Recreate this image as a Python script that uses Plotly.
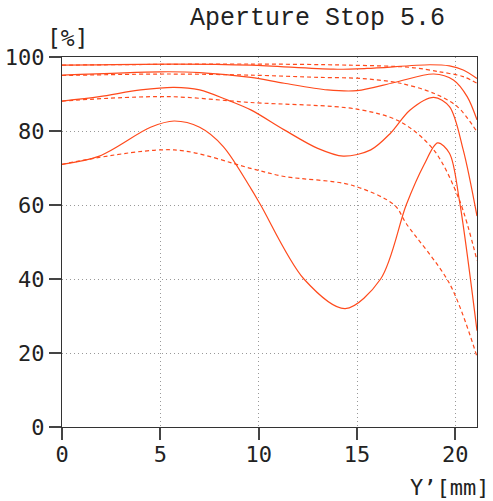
import plotly.graph_objects as go

COLOR = "#ff4a1c"
TITLE_FONT = "Liberation Mono"
FONT = "DejaVu Sans Mono"

# Tick labels
x_ticks = [0, 5, 10, 15, 20]
y_ticks = [0, 20, 40, 60, 80, 100]

# Series (solid = sagittal, dashed = meridional), x in mm, y in %
s1_x = [0, 5.7, 9.6, 13.8, 15.5, 18.7, 19.7, 20.4, 21.1]
s1_y = [97.8, 98.1, 97.8, 96.7, 96.9, 97.9, 97.6, 96.5, 94.2]
d1_x = [0, 5, 9.6, 14.6, 17.7, 19.2, 20.4, 21.1]
d1_y = [97.8, 98.0, 98.1, 97.8, 97.2, 96.0, 94.7, 92.9]

s2_x = [0, 5, 7, 9.6, 11.3, 13.5, 15, 16.9, 18.9, 19.9, 20.6, 21.1]
s2_y = [95.1, 96.0, 95.8, 94.5, 92.9, 91.1, 90.9, 93.1, 95.4, 93.8, 89.3, 83]
d2_x = [0, 5.3, 9.6, 13, 15.2, 17.2, 18.9, 20.1, 21.1]
d2_y = [95, 95.4, 95.1, 94.5, 94.2, 92.9, 90.2, 86.6, 79.8]

s3_x = [0, 1.9, 4, 5.7, 7, 8.4, 9.6, 11.3, 13, 14.3, 15.7, 16.7, 17.7, 18.9, 19.7, 20.4, 21.1]
s3_y = [88.1, 89.3, 91.1, 91.8, 91.1, 88.4, 85.7, 80.3, 75.3, 73.2, 74.9, 79.4, 85.7, 89.1, 86.6, 74.9, 57]
d3_x = [0, 5.3, 9.6, 15, 17.2, 18.9, 20.2, 21.1]
d3_y = [88.1, 89.3, 87.7, 85.9, 82.5, 74.9, 61.4, 45]

s4_x = [0, 1.9, 4.5, 5.7, 7, 8.2, 9.6, 10.1, 12.3, 14.4, 16.2, 17.5, 18.4, 19.1, 19.7, 20.2, 21.1]
s4_y = [71, 73.2, 81, 82.7, 81, 75.8, 64.5, 60, 40, 32, 40, 60, 70.8, 76.8, 74, 61.4, 26]
d4_x = [0, 5.7, 9.6, 11.3, 14.7, 16.9, 17.5, 19.7, 21.1]
d4_y = [71, 74.9, 69.9, 67.7, 65.4, 60, 55, 38.8, 19]

series = [
    (s1_x, s1_y, "solid"), (d1_x, d1_y, "dash"),
    (s2_x, s2_y, "solid"), (d2_x, d2_y, "dash"),
    (s3_x, s3_y, "solid"), (d3_x, d3_y, "dash"),
    (s4_x, s4_y, "solid"), (d4_x, d4_y, "dash"),
]

fig = go.Figure()
for xs, ys, dash in series:
    fig.add_trace(go.Scatter(
        x=xs, y=ys, mode="lines",
        line=dict(color=COLOR, width=1.2, dash="solid" if dash == "solid" else "4px,3px",
                  shape="spline", smoothing=0.9),
        showlegend=False, hoverinfo="skip",
    ))

axis_common = dict(
    showline=True, linecolor="#333", linewidth=1, mirror=True,
    ticks="outside", ticklen=12, tickcolor="#444", tickwidth=2,
    showgrid=True, gridcolor="#999", griddash="1px,3px", gridwidth=1,
    zeroline=False, automargin=False,
    tickfont=dict(family=FONT, size=22, color="#222"),
)

fig.update_xaxes(range=[0, 21.1], tickvals=x_ticks, ticktext=[str(v) for v in x_ticks],
                 ticklabelstandoff=-4, **axis_common)
fig.update_yaxes(range=[0, 100], tickvals=y_ticks, ticktext=[str(v) for v in y_ticks], **axis_common)

fig.update_layout(
    width=493, height=501,
    margin=dict(l=62, r=16, t=57, b=74),
    paper_bgcolor="white", plot_bgcolor="white",
    annotations=[
        dict(text="Aperture Stop 5.6", xref="paper", yref="paper", x=1.0, y=1.0,
             xanchor="right", yanchor="bottom", yshift=22, xshift=-30, showarrow=False,
             font=dict(family=TITLE_FONT, size=25, color="#222")),
        dict(text="[%]", xref="paper", yref="paper", x=0, y=1.0,
             xanchor="center", yanchor="bottom", xshift=6, yshift=4, showarrow=False,
             font=dict(family=FONT, size=23, color="#222")),
        dict(text="Y’[mm]", xref="paper", yref="paper", x=1.0, y=0,
             xanchor="right", yanchor="top", yshift=-46, xshift=14, showarrow=False,
             font=dict(family=FONT, size=22, color="#222")),
    ],
)

fig.write_html("out.html")
